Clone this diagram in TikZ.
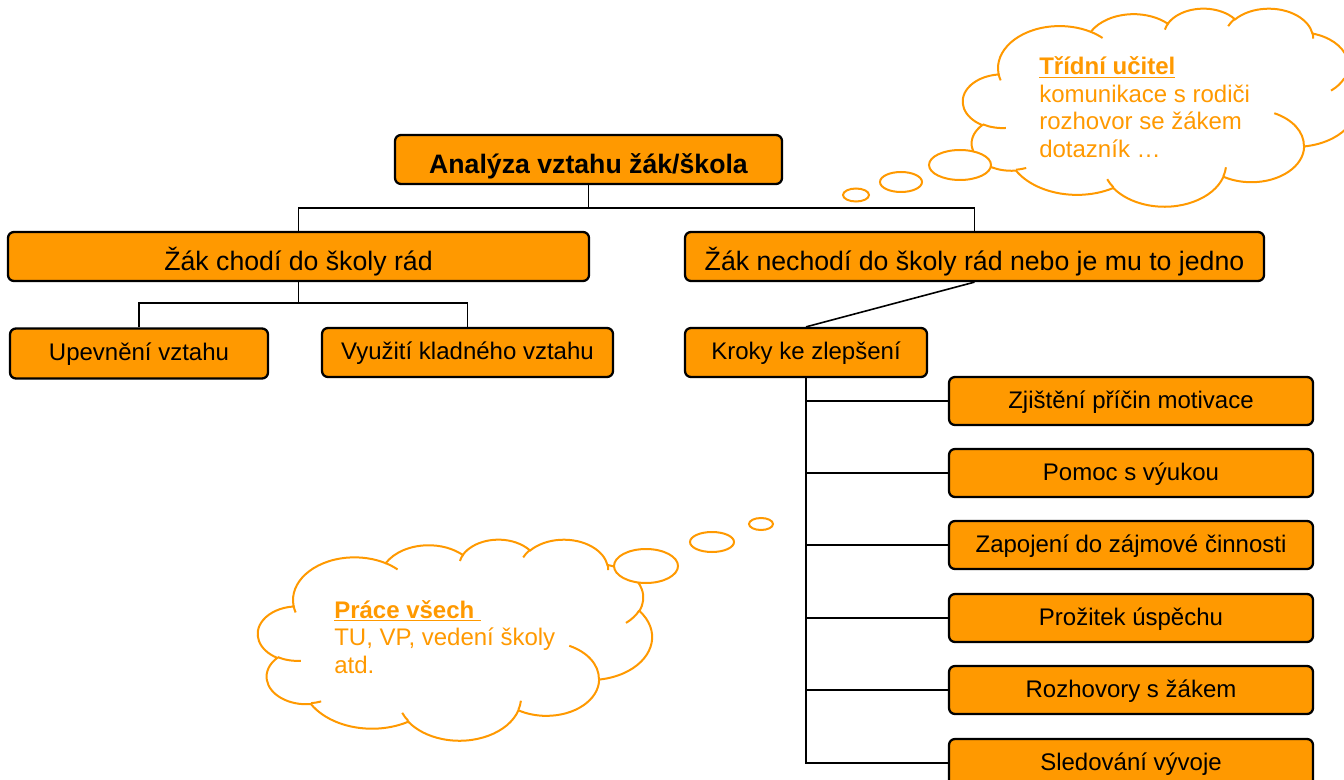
\documentclass[tikz,border=0pt]{standalone}
\usepackage{fontspec}
\setmainfont{Liberation Sans}
\definecolor{org}{HTML}{FF9900}
\pgfmathdeclarefunction{ptang}{3}{\pgfmathparse{atan2((#1)*sin(#3),(#2)*cos(#3))}}
\newcommand\ca[4]{arc[x radius=#1, y radius=#2, start angle={ptang(#1,#2,#3)}, delta angle={mod(ptang(#1,#2,(#3)+(#4))-ptang(#1,#2,#3)+720,360)}]}
\newcommand\cloudouter{(39.00,143.70) \ca{67.53}{91.90}{-190.48748}{123.78053}
 \ca{53.33}{72.67}{-144.10238}{89.94523}
 \ca{43.65}{59.45}{-145.80792}{99.72302}
 \ca{48.57}{65.95}{-130.98607}{117.24173}
 \ca{53.33}{72.73}{-78.70888}{109.02692}
 \ca{67.75}{92.20}{-46.26725}{130.269}
 \ca{57.85}{78.67}{0.62502}{114.03333}
 \ca{67.52}{92.15}{22.4516}{115.17255}
 \ca{77.20}{105.43}{66.24263}{75.71102}
 \ca{43.60}{59.18}{-274.94208}{146.73557}
 \ca{43.45}{59.45}{-246.8285}{152.51885} -- cycle}
\newcommand\cloudinner{(46.93,261.77) \ca{43.45}{59.45}{86.742}{26.4295}
 (69.28,348.99) \ca{43.60}{59.18}{73.61047}{11.44747}
 (164.78,390.90) \ca{67.52}{92.15}{137.62415}{14.0811}
 (288.27,347.51) \ca{67.52}{92.15}{6.45327}{15.99835}
 (341.29,229.54) \ca{57.85}{78.67}{-70.29235}{70.91737}
 (417.98,153.54) \ca{53.33}{72.73}{30.31803}{27.7515}
 (383.24,54.26) \ca{48.57}{65.95}{-13.74433}{14.8589}
 (290.78,39.52) \ca{48.57}{65.95}{-149.18145}{18.19537}
 (221.41,47.20) \ca{43.65}{59.45}{-163.49427}{17.68635}
 (140.00,51.92) \ca{67.53}{91.90}{-66.70695}{12.31935}
 (41.27,157.89) \ca{67.53}{91.90}{157.65435}{11.85817}}
\begin{document}
\begin{tikzpicture}[x=0.75pt,y=-0.75pt,
  box/.style={draw=black, line width=1.7pt, fill=org, rounded corners=4.5pt, inner sep=0pt, align=center},
  bigtxt/.style={font=\fontsize{20pt}{24pt}\selectfont, text height=20.5pt, text depth=0pt},
  smalltxt/.style={font=\fontsize{18pt}{21pt}\selectfont, text height=10.8pt, text depth=0pt},
  conn/.style={draw=black, line width=1.2pt},
  cloudline/.style={draw=org, line width=1.5pt, fill=white},
  innerline/.style={draw=org, line width=1.5pt},
  cloudtext/.style={text=org, anchor=north west, inner sep=0pt, align=left, font=\fontsize{18pt}{20.6pt}\selectfont}]
\useasboundingbox (0,0) rectangle (1344,780);

% clouds
\begin{scope}[shift={(963,8)}, x=1pt, y=1pt, xscale=0.6840, yscale=-0.3438]
  \path[cloudline] \cloudouter;
  \path[innerline] \cloudinner;
\end{scope}
\draw[cloudline] (960,165) ellipse [x radius=31*0.75pt, y radius=15*0.75pt];
\draw[cloudline] (901,182) ellipse [x radius=21*0.75pt, y radius=10*0.75pt];
\draw[cloudline] (856,195) ellipse [x radius=13*0.75pt, y radius=6.5*0.75pt];
\node[cloudtext] (t1) at (1039,56.5) {\textbf{\underline{Třídní učitel}}\\komunikace s rodiči\\rozhovor se žákem\\dotazník …};

\begin{scope}[shift={(258,539)}, x=1pt, y=1pt, xscale=0.6840, yscale=-0.3490]
  \path[cloudline] \cloudouter;
  \path[innerline] \cloudinner;
\end{scope}
\draw[cloudline] (646,566) ellipse [x radius=32*0.75pt, y radius=17*0.75pt];
\draw[cloudline] (712,542) ellipse [x radius=22*0.75pt, y radius=10*0.75pt];
\draw[cloudline] (761,524) ellipse [x radius=12*0.75pt, y radius=6*0.75pt];
\node[cloudtext] (t2) at (334,600) {\textbf{\underline{Práce všech\ }}\\TU, VP, vedení školy\\atd.};

% boxes
\node[box, bigtxt, font=\fontsize{20pt}{24pt}\selectfont\bfseries, minimum width=387*0.75pt, minimum height=49*0.75pt] (title) at (588.5,159.5) {Analýza vztahu žák/škola};
\node[box, bigtxt, minimum width=581*0.75pt, minimum height=49*0.75pt] (L) at (298.5,256.5) {Žák chodí do školy rád};
\node[box, bigtxt, minimum width=579*0.75pt, minimum height=49*0.75pt] (R) at (974.5,256.5) {Žák nechodí do školy rád nebo je mu to jedno};
\node[box, smalltxt, minimum width=258*0.75pt, minimum height=50*0.75pt] (U) at (139,353.5) {Upevnění vztahu};
\node[box, smalltxt, minimum width=291*0.75pt, minimum height=49*0.75pt] (V) at (467.5,352.5) {Využití kladného vztahu};
\node[box, smalltxt, minimum width=242*0.75pt, minimum height=49*0.75pt] (K) at (806,352.5) {Kroky ke zlepšení};
\node[box, smalltxt, minimum width=364*0.75pt, minimum height=48*0.75pt] (c1) at (1131,401) {Zjištění příčin motivace};
\node[box, smalltxt, minimum width=364*0.75pt, minimum height=48*0.75pt] (c2) at (1131,473) {Pomoc s výukou};
\node[box, smalltxt, minimum width=364*0.75pt, minimum height=48*0.75pt] (c3) at (1131,545) {Zapojení do zájmové činnosti};
\node[box, smalltxt, minimum width=364*0.75pt, minimum height=48*0.75pt] (c4) at (1131,618) {Prožitek úspěchu};
\node[box, smalltxt, minimum width=364*0.75pt, minimum height=48*0.75pt] (c5) at (1131,690) {Rozhovory s žákem};
\node[box, smalltxt, minimum width=364*0.75pt, minimum height=48*0.75pt] (c6) at (1131,763) {Sledování vývoje};

% connectors
\coordinate (j1) at (588.5,208);
\coordinate (j2) at (298.5,303);
\draw[conn] (title.south) -- (j1);
\draw[conn] (L.north) |- (j1) -| (R.north);
\draw[conn] (L.south) -- (j2);
\draw[conn] (U.north) |- (j2) -| (V.north);
\draw[conn] (R.south) -- (K.north);
\foreach \c in {c1,c2,c3,c4,c5,c6}{\draw[conn] (K.south) |- (\c.west);}
\end{tikzpicture}
\end{document}
